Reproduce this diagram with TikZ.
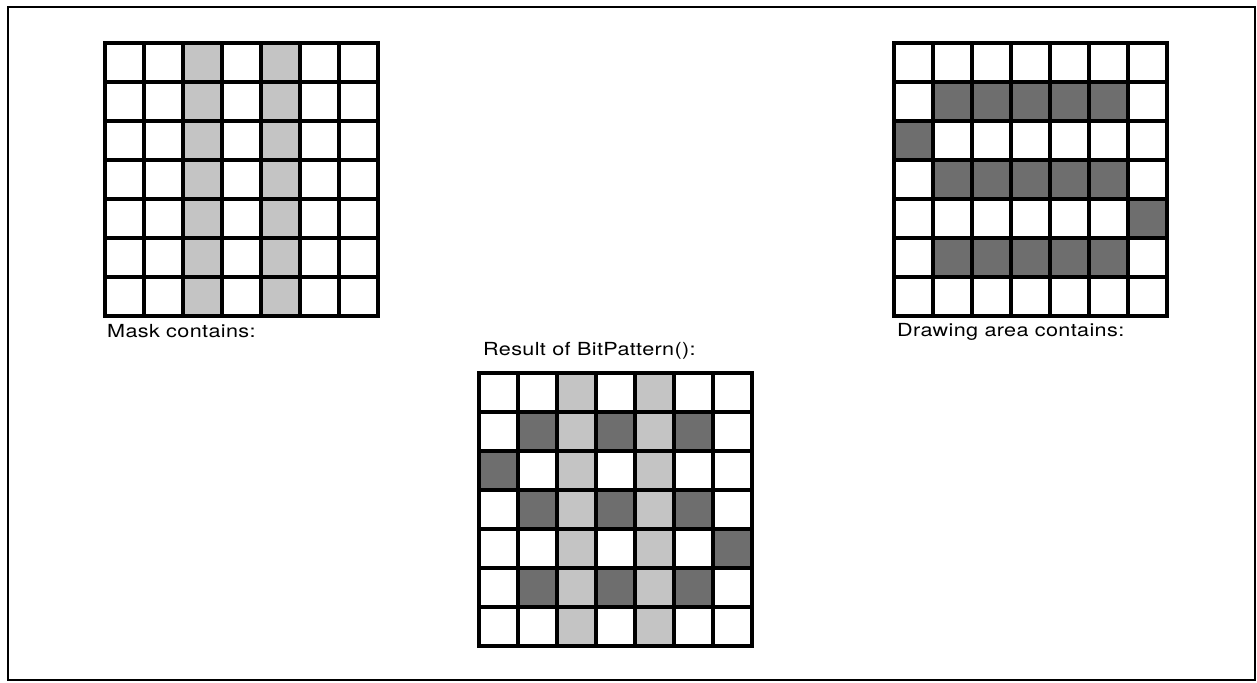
\documentclass[tikz,border=0pt]{standalone}
\usepackage{fontspec}
\setmainfont[FakeStretch=1.2,LetterSpace=2]{TeX Gyre Heros}
\usetikzlibrary{positioning}
\definecolor{maskGray}{HTML}{C4C4C4}
\definecolor{drawGray}{HTML}{6E6E6E}

\begin{document}
\begin{tikzpicture}[x=1pt, y=-1pt,
  cellline/.style={draw=black, line width=3.2pt, line cap=rect},
  maskcell/.style={fill=maskGray},
  drawcell/.style={fill=drawGray},
  caption/.style={anchor=base west, inner sep=0pt, font=\fontsize{18}{20}\selectfont}
]
\useasboundingbox (0,0) rectangle (1257,682);
\draw[line width=2pt] (8,7) rectangle (1255,680);
% grid origins
\coordinate (mask) at (105,43);
\coordinate (area) at (894,43);
\coordinate (result) at (479,373);
% mask: columns 2 and 4
\foreach \c in {2,4} \foreach \r in {0,...,6} {
  \fill[maskcell] ([shift={(39*\c,39*\r)}]mask) rectangle ++(39,39);
  \fill[maskcell] ([shift={(39*\c,39*\r)}]result) rectangle ++(39,39);
}
% drawing area
\foreach \c/\r in {1/1,2/1,3/1,4/1,5/1,0/2,1/3,2/3,3/3,4/3,5/3,6/4,1/5,2/5,3/5,4/5,5/5}
  \fill[drawcell] ([shift={(39*\c,39*\r)}]area) rectangle ++(39,39);
% result: drawing area where mask is clear
\foreach \c/\r in {1/1,3/1,5/1,0/2,1/3,3/3,5/3,6/4,1/5,3/5,5/5}
  \fill[drawcell] ([shift={(39*\c,39*\r)}]result) rectangle ++(39,39);
% cell lines
\foreach \g in {mask,area,result} \foreach \i in {0,...,7} {
  \draw[cellline] ([shift={(39*\i,0)}]\g) -- ++(0,273);
  \draw[cellline] ([shift={(0,39*\i)}]\g) -- ++(273,0);
}
\node[caption] (maskcap) at (107,337) {Mask contains:};
\node[caption] (resultcap) at (483,355) {Result of BitPattern():};
\node[caption] (areacap) at (897,336) {Drawing area contains:};
\end{tikzpicture}
\end{document}
